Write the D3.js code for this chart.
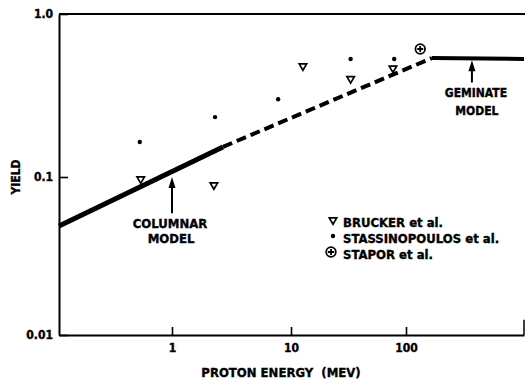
<!DOCTYPE html>
<html>
<head>
<meta charset="utf-8">
<script src="https://cdn.jsdelivr.net/npm/d3@7"></script>
<style>
  body { margin: 0; background: #fff; }
  svg text { font-family: "Liberation Sans Narrow", "DejaVu Sans Condensed", "Liberation Sans", Arial, sans-serif; font-weight: bold; fill: #000; stroke: #000; stroke-width: 0.35px; }
</style>
</head>
<body>
<div id="viz"></div>
<script>
// proton energy (MeV) vs yield
let bruckerEnergy = [0.54, 2.25, 12.7, 33, 77];
let bruckerYield = [0.097, 0.089, 0.48, 0.40, 0.465];

let stassEnergy = [0.53, 2.3, 7.8, 33, 79];
let stassYield = [0.164, 0.233, 0.30, 0.53, 0.53];

let staporEnergy = [132];
let staporYield = [0.61];

// model curves
let columnarLine = [[0.108, 0.049], [2.68, 0.153]];
let dashedLine = [[2.68, 0.153], [166, 0.537]];
let geminateLine = [[166, 0.537], [1000, 0.53]];

let xTicks = [1, 10, 100];
let xTickLabels = ["1", "10", "100"];
let yTicks = [0.01, 0.1, 1];
let yTickLabels = ["0.01", "0.1", "1.0"];

let w = 525;
let h = 381;

let viz = d3.select("#viz")
  .append("svg")
  .attr("width", w)
  .attr("height", h)
  .style("background-color", "white");

// the scanned axes are not quite even, so piecewise log scales
let x = d3.scaleLog()
  .domain([0.108, 1, 10, 100, 1000])
  .range([59, 172, 291, 406, 524]);

let y = d3.scaleLog()
  .domain([0.01, 0.1, 1])
  .range([335, 177, 14]);

// x axis
let xAxis = d3.axisBottom(x)
  .tickValues(xTicks)
  .tickFormat((d, i) => xTickLabels[i])
  .tickSize(-8)
  .tickSizeOuter(0)
  .tickPadding(8);

let gx = viz.append("g")
  .attr("transform", "translate(0," + y(0.01) + ")")
  .call(xAxis);
gx.select(".domain").attr("stroke-width", 2);
gx.selectAll(".tick line").attr("stroke-width", 1.6);
gx.selectAll("text").style("font-size", "12px");

// y axis
let yAxis = d3.axisLeft(y)
  .tickValues(yTicks)
  .tickFormat((d, i) => yTickLabels[i])
  .tickSize(-9)
  .tickSizeOuter(0)
  .tickPadding(6);

let gy = viz.append("g")
  .attr("transform", "translate(" + x(0.108) + ",0)")
  .call(yAxis);
gy.select(".domain").attr("stroke-width", 2);
gy.selectAll(".tick line").attr("stroke-width", 1.6);
gy.selectAll("text").style("font-size", "12px");

// top frame and short right edge
viz.append("line")
  .attr("x1", x(0.108)).attr("x2", w)
  .attr("y1", y(1)).attr("y2", y(1))
  .attr("stroke", "black").attr("stroke-width", 2);
viz.append("line")
  .attr("x1", x(1000)).attr("x2", x(1000))
  .attr("y1", y(0.0125)).attr("y2", y(0.01))
  .attr("stroke", "black").attr("stroke-width", 1.5);

// model lines
let line = d3.line().x(d => x(d[0])).y(d => y(d[1]));

viz.append("path")
  .attr("d", line(columnarLine))
  .attr("fill", "none").attr("stroke", "black").attr("stroke-width", 5);

viz.append("path")
  .attr("d", line(dashedLine))
  .attr("fill", "none").attr("stroke", "black").attr("stroke-width", 4)
  .attr("stroke-dasharray", "10,5");

viz.append("path")
  .attr("d", line(geminateLine))
  .attr("fill", "none").attr("stroke", "black").attr("stroke-width", 4);

// symbols
let tri = d3.symbol().type(d3.symbolTriangle).size(24);

function drawTriangle(g, cx, cy) {
  g.append("path")
    .attr("d", tri())
    .attr("transform", "translate(" + cx + "," + cy + ") rotate(180)")
    .attr("fill", "white").attr("stroke", "black").attr("stroke-width", 1.7);
}

function drawStapor(g, cx, cy) {
  g.append("circle").attr("cx", cx).attr("cy", cy).attr("r", 4.8)
    .attr("fill", "white").attr("stroke", "black").attr("stroke-width", 1.8);
  g.append("path")
    .attr("d", "M" + (cx - 3) + "," + cy + "H" + (cx + 3) + "M" + cx + "," + (cy - 3) + "V" + (cy + 3))
    .attr("stroke", "black").attr("stroke-width", 1.8);
}

bruckerEnergy.forEach((e, i) => drawTriangle(viz, x(e), y(bruckerYield[i])));

viz.selectAll(".stass")
  .data(stassEnergy)
  .enter()
  .append("circle")
  .attr("class", "stass")
  .attr("cx", d => x(d))
  .attr("cy", (d, i) => y(stassYield[i]))
  .attr("r", 2.2)
  .attr("fill", "black");

staporEnergy.forEach((e, i) => drawStapor(viz, x(e), y(staporYield[i])));

// annotation arrows
function arrow(ex, tipY, tailY) {
  let ax = x(ex);
  viz.append("line")
    .attr("x1", ax).attr("x2", ax)
    .attr("y1", y(tipY) + 6).attr("y2", y(tailY))
    .attr("stroke", "black").attr("stroke-width", 2);
  viz.append("path")
    .attr("d", "M" + ax + "," + y(tipY) + "L" + (ax - 3.5) + "," + (y(tipY) + 11) + "L" + (ax + 3.5) + "," + (y(tipY) + 11) + "Z")
    .attr("fill", "black");
}

arrow(1, 0.1, 0.059);
arrow(362, 0.52, 0.38);

viz.append("text").text("COLUMNAR")
  .attr("x", x(1) - 2).attr("y", y(0.059) + 15)
  .attr("text-anchor", "middle").style("font-size", "13px");
viz.append("text").text("MODEL")
  .attr("x", x(1) - 1).attr("y", y(0.059) + 30)
  .attr("text-anchor", "middle").style("font-size", "13px");

viz.append("text").text("GEMINATE")
  .attr("x", x(362) + 4).attr("y", y(0.38) + 15)
  .attr("text-anchor", "middle").style("font-size", "12px");
viz.append("text").text("MODEL")
  .attr("x", x(362) + 5).attr("y", y(0.38) + 33)
  .attr("text-anchor", "middle").style("font-size", "12px");

// legend
let legend = viz.append("g");
drawTriangle(legend, 333, 220);
legend.append("circle").attr("cx", 333).attr("cy", 236).attr("r", 2.2).attr("fill", "black");
drawStapor(legend, 331, 252);
legend.append("text").text("BRUCKER et al.").attr("x", 343).attr("y", 227).style("font-size", "13px");
legend.append("text").text("STASSINOPOULOS et al.").attr("x", 343).attr("y", 243).style("font-size", "13px");
legend.append("text").text("STAPOR et al.").attr("x", 343).attr("y", 259).style("font-size", "13px");

// axis titles
viz.append("text").text("YIELD")
  .attr("transform", "translate(20,177) rotate(-90)")
  .attr("text-anchor", "middle").style("font-size", "12px");

viz.append("text").text("PROTON ENERGY\u00a0\u00a0(MEV)")
  .attr("x", 281).attr("y", 377)
  .attr("text-anchor", "middle").style("font-size", "13px");
</script>
</body>
</html>
